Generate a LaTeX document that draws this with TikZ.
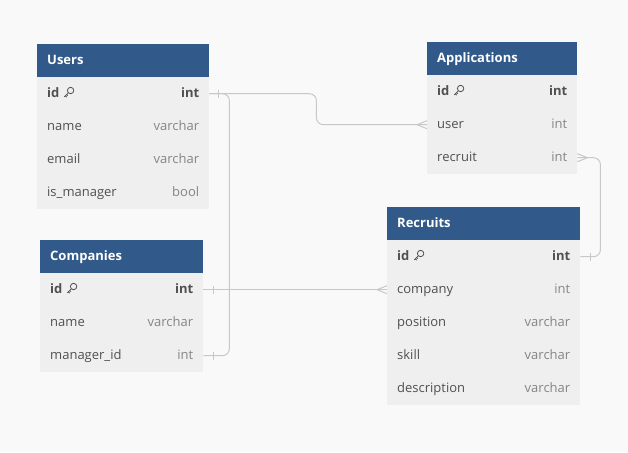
\documentclass[tikz,border=0pt]{standalone}
\usepackage{fontspec}
\setmainfont{Open Sans}
\definecolor{bg}{HTML}{F9F9F9}
\definecolor{hdrblue}{HTML}{315A8A}
\definecolor{rowgray}{HTML}{EFEFEF}
\definecolor{fieldc}{HTML}{505050}
\definecolor{typec}{HTML}{858585}
\definecolor{linec}{HTML}{C8C8C8}
\tikzset{
  hdr/.style={fill=hdrblue,draw=none,anchor=north west,minimum height=33pt,inner sep=0pt},
  rowbox/.style={fill=rowgray,draw=none,anchor=north west,minimum height=33pt,inner sep=0pt},
  htxt/.style={anchor=base west,inner sep=0pt,text=white,font=\fontsize{13}{15}\selectfont\bfseries},
  ftxt/.style={anchor=base west,inner sep=0pt,text=fieldc,font=\fontsize{13}{15}\selectfont},
  ttxt/.style={anchor=base east,inner sep=0pt,text=typec,font=\fontsize{13}{15}\selectfont},
  fbold/.style={ftxt,font=\fontsize{13}{15}\selectfont\bfseries},
  tbold/.style={ttxt,text=fieldc,font=\fontsize{13}{15}\selectfont\bfseries},
  rel/.style={draw=linec,line width=1pt,rounded corners=7pt},
  keyst/.style={draw=fieldc,line width=0.8pt},
}
\newcommand\ehead[5]{%
  \node[hdr,minimum width=#4pt] (#1) at (#2,#3) {};
  \node[htxt] (#1-t) at ([xshift=10pt,yshift=-3.8pt]#1.west) {#5};}
\newcommand\erow[6]{%
  \node[rowbox,minimum width=#4pt] (#1) at (#2,#3) {};
  \node[ftxt] (#1-f) at ([xshift=10pt,yshift=-3.8pt]#1.west) {#5};
  \node[ttxt] (#1-t) at ([xshift=-10pt,yshift=-3.8pt]#1.east) {#6};}
\newcommand\eidrow[4]{%
  \node[rowbox,minimum width=#4pt] (#1) at (#2,#3) {};
  \node[fbold] (#1-f) at ([xshift=10pt,yshift=-3.8pt]#1.west) {id};
  \node[tbold] (#1-t) at ([xshift=-10pt,yshift=-3.8pt]#1.east) {int};
  \begin{scope}[shift={([xshift=4pt]#1-f.base east)}]
    \draw[keyst] (7.0,-7.0) circle (3.2);
    \draw[keyst] (4.7,-4.7) -- (0.6,-0.6) (1.7,-1.7) -- (3.1,-0.3) (3.0,-3.0) -- (4.2,-1.8);
  \end{scope}}
\begin{document}
\begin{tikzpicture}[x=1pt,y=-1pt]
\path[use as bounding box,fill=bg] (0,0) rectangle (628,452);
% Users
\ehead{u}{37}{44}{172}{Users}
\eidrow{u-id}{37}{77}{172}
\erow{u-name}{37}{110}{172}{name}{varchar}
\erow{u-email}{37}{143}{172}{email}{varchar}
\erow{u-mgr}{37}{176}{172}{is\_manager}{bool}
% Applications
\ehead{a}{427}{42}{150}{Applications}
\eidrow{a-id}{427}{75}{150}
\erow{a-user}{427}{108}{150}{user}{int}
\erow{a-rec}{427}{141}{150}{recruit}{int}
% Companies
\ehead{c}{40}{240}{163}{Companies}
\eidrow{c-id}{40}{273}{163}
\erow{c-name}{40}{306}{163}{name}{varchar}
\erow{c-mgr}{40}{339}{163}{manager\_id}{int}
% Recruits
\ehead{r}{387}{207}{193}{Recruits}
\eidrow{r-id}{387}{240}{193}
\erow{r-comp}{387}{273}{193}{company}{int}
\erow{r-pos}{387}{306}{193}{position}{varchar}
\erow{r-skill}{387}{339}{193}{skill}{varchar}
\erow{r-desc}{387}{372}{193}{description}{varchar}
% Users.id -> Applications.user
\draw[rel] (u-id.east) -- ++(107,0) |- (a-user.west);
\draw[rel,rounded corners=0pt] ([xshift=9pt,yshift=4pt]u-id.east) -- ([xshift=9pt,yshift=-4pt]u-id.east);
\draw[rel,rounded corners=0pt] ([xshift=-10pt]a-user.west) -- ([yshift=4pt]a-user.west)
  ([xshift=-10pt]a-user.west) -- ([yshift=-4pt]a-user.west);
% Users.id -> Companies.manager_id
\draw[rel] (u-id.east) -- ++(20,0) |- (c-mgr.east);
\draw[rel,rounded corners=0pt] ([xshift=10pt,yshift=4pt]c-mgr.east) -- ([xshift=10pt,yshift=-4pt]c-mgr.east);
% Companies.id -> Recruits.company
\draw[rel] (c-id.east) -- (r-comp.west);
\draw[rel,rounded corners=0pt] ([xshift=10pt,yshift=4pt]c-id.east) -- ([xshift=10pt,yshift=-4pt]c-id.east);
\draw[rel,rounded corners=0pt] ([xshift=-10pt]r-comp.west) -- ([yshift=4pt]r-comp.west)
  ([xshift=-10pt]r-comp.west) -- ([yshift=-4pt]r-comp.west);
% Applications.recruit -> Recruits.id
\draw[rel] (a-rec.east) -- ++(23,0) |- (r-id.east);
\draw[rel,rounded corners=0pt] ([xshift=10pt]a-rec.east) -- ([yshift=4pt]a-rec.east)
  ([xshift=10pt]a-rec.east) -- ([yshift=-4pt]a-rec.east);
\draw[rel,rounded corners=0pt] ([xshift=10pt,yshift=4pt]r-id.east) -- ([xshift=10pt,yshift=-4pt]r-id.east);
\end{tikzpicture}
\end{document}
